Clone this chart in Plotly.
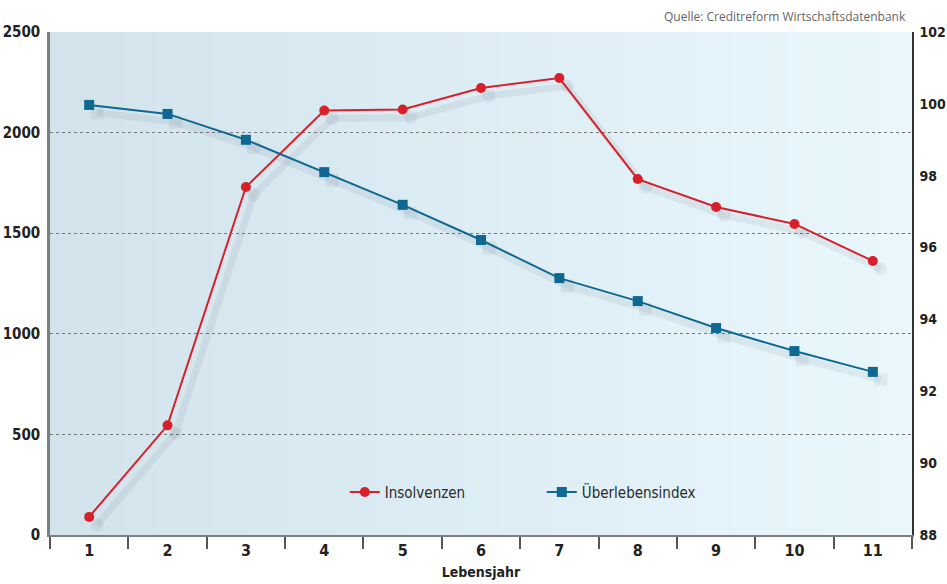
import plotly.graph_objects as go

# Data
years = [1, 2, 3, 4, 5, 6, 7, 8, 9, 10, 11]
year_labels = ["1", "2", "3", "4", "5", "6", "7", "8", "9", "10", "11"]
insolvenzen = [90, 545, 1730, 2110, 2115, 2222, 2271, 1769, 1630, 1546, 1362]
ueberlebensindex = [99.97, 99.72, 99.0, 98.1, 97.19, 96.21, 95.15, 94.51, 93.76, 93.12, 92.54]

left_ticks = [0, 500, 1000, 1500, 2000, 2500]
right_ticks = [88, 90, 92, 94, 96, 98, 100, 102]

RED = "#d7202b"
BLUE = "#0e6891"
FONT = "DejaVu Sans Condensed"

fig = go.Figure()

# soft shadows (derived from the same data, offset slightly)
sx = 0.1
SH = "rgba(70,80,90,0.08)"
fig.add_trace(go.Scatter(
    x=[v + sx for v in years], y=[v - 40 for v in insolvenzen],
    mode="lines+markers", line=dict(color=SH, width=7),
    marker=dict(size=13, color=SH),
    hoverinfo="skip", showlegend=False, yaxis="y"))
fig.add_trace(go.Scatter(
    x=[v + sx for v in years], y=[v - 0.22 for v in ueberlebensindex],
    mode="lines+markers", line=dict(color=SH, width=7),
    marker=dict(size=13, symbol="square", color=SH),
    hoverinfo="skip", showlegend=False, yaxis="y2"))

fig.add_trace(go.Scatter(
    x=years, y=insolvenzen, name="Insolvenzen", mode="lines+markers",
    line=dict(color=RED, width=2), marker=dict(size=10, color=RED, symbol="circle"),
    yaxis="y"))
fig.add_trace(go.Scatter(
    x=years, y=ueberlebensindex, name="Überlebensindex", mode="lines+markers",
    line=dict(color=BLUE, width=2), marker=dict(size=10, color=BLUE, symbol="square"),
    yaxis="y2"))

# background gradient strips
def lerp(a, b, t):
    return int(round(a + (b - a) * t))
c0 = (210, 227, 236)
c1 = (233, 247, 253)
n = 48
shapes = []
for i in range(n):
    t = i / (n - 1)
    col = "rgb(%d,%d,%d)" % tuple(lerp(c0[k], c1[k], t) for k in range(3))
    shapes.append(dict(type="rect", xref="x domain", yref="y domain",
                       x0=i / n, x1=(i + 1) / n + 0.002, y0=0, y1=1,
                       fillcolor=col, line=dict(width=0), layer="below"))

YTICKFONT = dict(size=15, family=FONT, color="#222", weight="bold")
Y2TICKFONT = dict(size=14, family=FONT, color="#222", weight="bold")
XTICKFONT = dict(size=16, family=FONT, color="#222", weight="bold")

fig.update_layout(
    width=947, height=584,
    margin=dict(l=50, r=35, t=32, b=49, autoexpand=False),
    paper_bgcolor="white", plot_bgcolor="rgba(0,0,0,0)",
    shapes=shapes,
    font=dict(family=FONT, color="#222"),
    showlegend=True,
    legend=dict(orientation="h", x=0.342, xanchor="left", y=0.085, yanchor="middle",
                bgcolor="rgba(0,0,0,0)", font=dict(size=15, color="#2a2a2a", family=FONT),
                entrywidth=152, traceorder="normal"),
    xaxis=dict(range=[0.5, 11.5], tickvals=years, ticktext=year_labels, automargin=False,
               showgrid=False, zeroline=False, showline=True, linecolor="#7a7f84", linewidth=2,
               ticks="", tickfont=XTICKFONT,
               minor=dict(tickvals=[v - 0.5 for v in years] + [11.5], ticks="outside",
                          ticklen=12, tickcolor="#555", tickwidth=1.5, showgrid=False),
               title=dict(text="Lebensjahr", font=dict(size=14, color="#222", weight="bold"), standoff=8)),
    yaxis=dict(range=[0, 2500], tickvals=left_ticks, showgrid=True, automargin=False,
               gridcolor="#777", griddash="dot", gridwidth=1,
               zeroline=False, showline=True, linecolor="#7a7f84", linewidth=2.5,
               tickfont=YTICKFONT, ticks="", ticklabelstandoff=4),
    yaxis2=dict(range=[88, 102], tickvals=right_ticks, overlaying="y", side="right", automargin=False,
                showgrid=False, zeroline=False, showline=True, linecolor="#333", linewidth=1.5,
                tickfont=Y2TICKFONT, ticks="", ticklabelstandoff=3),
    annotations=[dict(text="Quelle: Creditreform Wirtschaftsdatenbank", xref="paper", yref="paper",
                      x=0.995, y=1.0, xanchor="right", yanchor="bottom", yshift=5, showarrow=False,
                      font=dict(family="Open Sans", size=12, color="#666", weight="normal"))],
)

fig.write_html("out.html", config={"displayModeBar": False},
               post_script="document.body.style.margin='0';document.body.style.overflow='hidden';")
